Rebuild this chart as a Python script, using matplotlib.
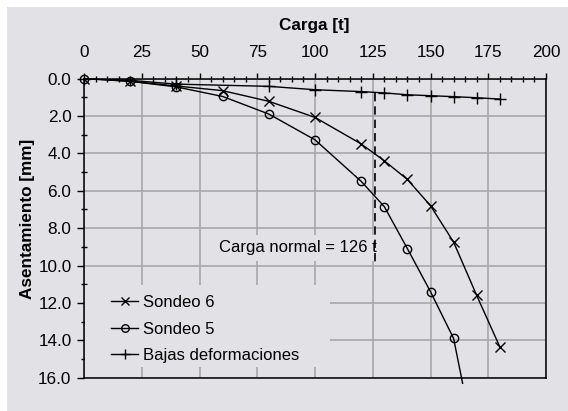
import matplotlib
matplotlib.use("Agg")
import matplotlib.pyplot as plt
from matplotlib.patches import Rectangle
from matplotlib.ticker import MultipleLocator, FormatStrFormatter

plt.rcParams['font.family'] = ['Liberation Sans', 'DejaVu Sans']

# ---- data ----
x_s6 = [0, 20, 40, 60, 80, 100, 120, 130, 140, 150, 160, 170, 180]
y_s6 = [0, 0.15, 0.4, 0.65, 1.22, 2.08, 3.5, 4.4, 5.4, 6.8, 8.75, 11.6, 14.35]

x_s5 = [0, 20, 40, 60, 80, 100, 120, 130, 140, 150, 160, 163.9]
y_s5 = [0, 0.15, 0.45, 0.96, 1.9, 3.28, 5.5, 6.85, 9.1, 11.4, 13.9, 16.3]

x_bd = [0, 20, 40, 80, 100, 120, 130, 140, 150, 160, 170, 180]
y_bd = [0, 0.1, 0.3, 0.42, 0.6, 0.7, 0.77, 0.87, 0.92, 0.97, 1.03, 1.1]

carga_normal = 126
dash_y = [0.77, 9.85]
label_s6 = "Sondeo 6"
label_s5 = "Sondeo 5"
label_bd = "Bajas deformaciones"
xlabel = "Carga [t]"
ylabel = "Asentamiento [mm]"

BG = '#E1E1E6'
GRID = '#A8A8A8'

fig = plt.figure(figsize=(5.68, 4.11), dpi=100, facecolor='white')
fig.patches.append(Rectangle((7 / 568, 0), 1 - 7 / 568, 1 - 7 / 411,
                             transform=fig.transFigure, facecolor=BG,
                             edgecolor='none', zorder=-10))
ax = fig.add_axes([84 / 568, 1 - 377.7 / 411, 462 / 568, 299.2 / 411])
ax.set_facecolor(BG)

ax.set_xlim(0, 200)
ax.set_ylim(16, 0)

ax.xaxis.tick_top()
ax.xaxis.set_label_position('top')
ax.xaxis.set_major_locator(MultipleLocator(25))
ax.xaxis.set_minor_locator(MultipleLocator(5))
ax.yaxis.set_major_locator(MultipleLocator(2))
ax.yaxis.set_minor_locator(MultipleLocator(1))
ax.yaxis.set_major_formatter(FormatStrFormatter('%.1f'))

ax.tick_params(axis='x', which='major', direction='out', length=4.5, width=1,
               pad=8.5, labelsize=12.3, top=True, bottom=False)
ax.tick_params(axis='x', which='minor', direction='inout', length=5, width=1,
               top=True, bottom=False)
ax.tick_params(axis='y', which='major', direction='out', length=5, width=1,
               pad=4, labelsize=12.3, left=True, right=False)
ax.tick_params(axis='y', which='minor', direction='inout', length=5, width=1,
               left=True, right=False)

for s in ax.spines.values():
    s.set_linewidth(1.1)
    s.set_color('black')

ax.set_axisbelow(True)
ax.grid(True, which='major', color=GRID, linewidth=1.2)

# gaps in grid behind legend and annotation
ax.add_patch(Rectangle((0.002, 0.036), 0.53, 0.274, transform=ax.transAxes,
                       facecolor=BG, edgecolor='none', zorder=1))

ax.plot(x_s6, y_s6, color='black', lw=1.0, marker='x', markersize=7,
        markeredgewidth=1.0, label=label_s6, zorder=4)
ax.plot(x_s5, y_s5, color='black', lw=1.0, marker='o', markersize=6,
        markerfacecolor='none', markeredgewidth=1.0,
        markevery=list(range(len(x_s5) - 1)), label=label_s5,
        clip_on=False, zorder=4)
ax.plot(x_bd, y_bd, color='black', lw=1.0, marker='+', markersize=8,
        markeredgewidth=1.0, label=label_bd, zorder=4)

ax.plot([carga_normal, carga_normal], dash_y, color='black', lw=1.2,
        linestyle=(0, (5, 3)), zorder=5)
ax.text(58.3, 9.05, f"Carga normal = {carga_normal} t", fontsize=12,
        ha='left', va='center', zorder=3,
        bbox=dict(facecolor=BG, edgecolor='none', pad=4))

ax.set_xlabel(xlabel, fontsize=12.3, fontweight='bold')
ax.set_ylabel(ylabel, fontsize=12.3, fontweight='bold')
ax.xaxis.set_label_coords(0.498, 1.162)
ax.yaxis.set_label_coords(-0.106, 0.532)

leg = ax.legend(loc='upper left', bbox_to_anchor=(0.045, 0.298), frameon=False,
                fontsize=12, handlelength=1.6, handletextpad=0.3,
                labelspacing=0.68, borderaxespad=0, markerscale=0.9)

fig.savefig('out.png', dpi=100, facecolor=fig.get_facecolor())
